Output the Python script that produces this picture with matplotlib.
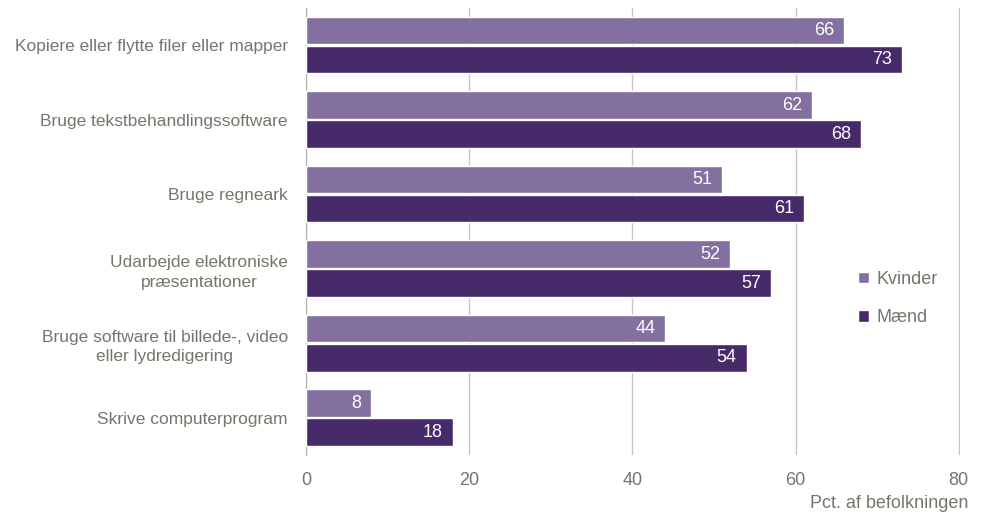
import matplotlib
matplotlib.use("Agg")
import matplotlib.pyplot as plt
import numpy as np

categories = ["Kopiere eller flytte filer eller mapper",
              "Bruge tekstbehandlingssoftware",
              "Bruge regneark",
              "Udarbejde elektroniske\npræsentationer",
              "Bruge software til billede-, video\neller lydredigering",
              "Skrive computerprogram"]
kvinder = [66, 62, 51, 52, 44, 8]
maend = [73, 68, 61, 57, 54, 18]
xticks = [0, 20, 40, 60, 80]

plt.rcParams["font.family"] = ["Liberation Sans", "DejaVu Sans"]

c_k = "#8470a0"
c_m = "#472a6a"
grey = "#77756a"

fig = plt.figure(figsize=(9.84, 5.15), dpi=100)
ax = fig.add_axes([0.311, 0.1165, 0.6645, 0.8685])

y = np.arange(len(categories))
h = 0.37
ax.barh(y - h / 2 - 0.01, kvinder, height=h, color=c_k, edgecolor="white", linewidth=1, label="Kvinder", zorder=3)
ax.barh(y + h / 2 + 0.01, maend, height=h, color=c_m, edgecolor="white", linewidth=1, label="Mænd", zorder=3)

for i in range(len(categories)):
    ax.text(kvinder[i] - 1.2, y[i] - h / 2 - 0.01, str(kvinder[i]), color="white",
            ha="right", va="center", fontsize=13, zorder=4)
    ax.text(maend[i] - 1.2, y[i] + h / 2 + 0.01, str(maend[i]), color="white",
            ha="right", va="center", fontsize=13, zorder=4)

ax.set_ylim(len(categories) - 0.5, -0.5)
ax.set_xlim(0, 80.15)
ax.set_yticks(y)
ax.set_yticklabels(categories, fontsize=12.5, color=grey, multialignment="center", linespacing=1.4)
ax.set_xticks(xticks)
ax.set_xticklabels([str(v) for v in xticks], fontsize=13, color=grey)
ax.tick_params(axis="both", length=0)
ax.tick_params(axis="y", pad=13)
ax.tick_params(axis="x", pad=12)
ax.xaxis.grid(True, color="#c8c8c0", linewidth=1, zorder=0)
for s in ["top", "right", "bottom"]:
    ax.spines[s].set_visible(False)
ax.spines["left"].set_color("#b0b0a8")

fig.text(0.984, 0.005, "Pct. af befolkningen", ha="right", va="bottom", fontsize=13, color=grey)

leg = ax.legend(loc="center left", bbox_to_anchor=(0.82, 0.35), frameon=False,
                fontsize=13, handlelength=0.6, handleheight=0.6, handletextpad=0.4,
                labelspacing=1.2)
for t in leg.get_texts():
    t.set_color(grey)

fig.savefig("out.png", dpi=100)
